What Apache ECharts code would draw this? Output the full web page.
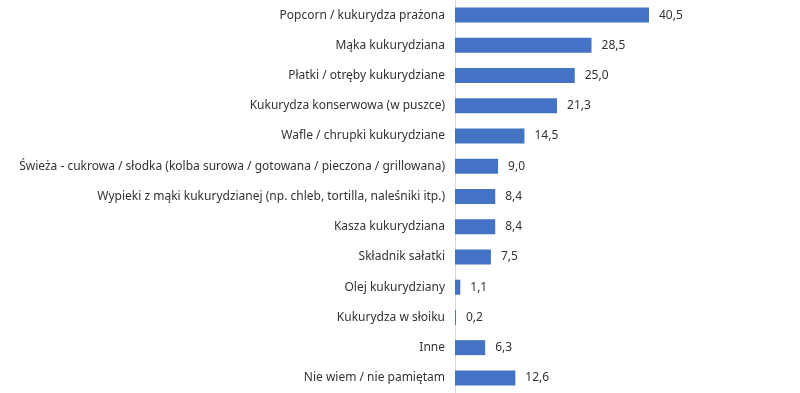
<!DOCTYPE html>
<html><head><meta charset="utf-8">
<script src="https://cdn.jsdelivr.net/npm/echarts@6/dist/echarts.min.js"></script>
<style>html,body{margin:0;padding:0;background:#fff}#c{width:800px;height:393px}</style>
</head><body><div id="c"></div>
<script>
const categories = [
  "Popcorn / kukurydza prażona",
  "Mąka kukurydziana",
  "Płatki / otręby kukurydziane",
  "Kukurydza konserwowa (w puszce)",
  "Wafle / chrupki kukurydziane",
  "Świeża - cukrowa / słodka (kolba surowa / gotowana / pieczona / grillowana)",
  "Wypieki z mąki kukurydzianej (np. chleb, tortilla, naleśniki itp.)",
  "Kasza kukurydziana",
  "Składnik sałatki",
  "Olej kukurydziany",
  "Kukurydza w słoiku",
  "Inne",
  "Nie wiem / nie pamiętam"
];
const values = [40.5, 28.5, 25.0, 21.3, 14.5, 9.0, 8.4, 8.4, 7.5, 1.1, 0.2, 6.3, 12.6];

const chart = echarts.init(document.getElementById('c'));
chart.setOption({
  animation: false,
  textStyle: { fontFamily: "'Segoe UI', 'Noto Sans', sans-serif" },
  grid: { left: 455, top: 0, width: 287.4, height: 393, containLabel: false },
  xAxis: { type: 'value', min: 0, max: 60, show: false },
  yAxis: {
    type: 'category', data: categories, inverse: true,
    axisLine: { show: true, lineStyle: { color: '#d9d9d9', width: 1 } },
    axisTick: { show: false },
    axisLabel: { color: '#333333', fontSize: 12, margin: 10, fontFamily: "'Segoe UI', 'Noto Sans', sans-serif" }
  },
  series: [{
    type: 'bar', data: values, barWidth: 15,
    itemStyle: { color: '#4472C4' },
    label: {
      show: true, position: 'right', distance: 10, color: '#333333', fontSize: 12,
      formatter: p => p.value.toFixed(1).replace('.', ',')
    }
  }]
});
</script></body></html>
